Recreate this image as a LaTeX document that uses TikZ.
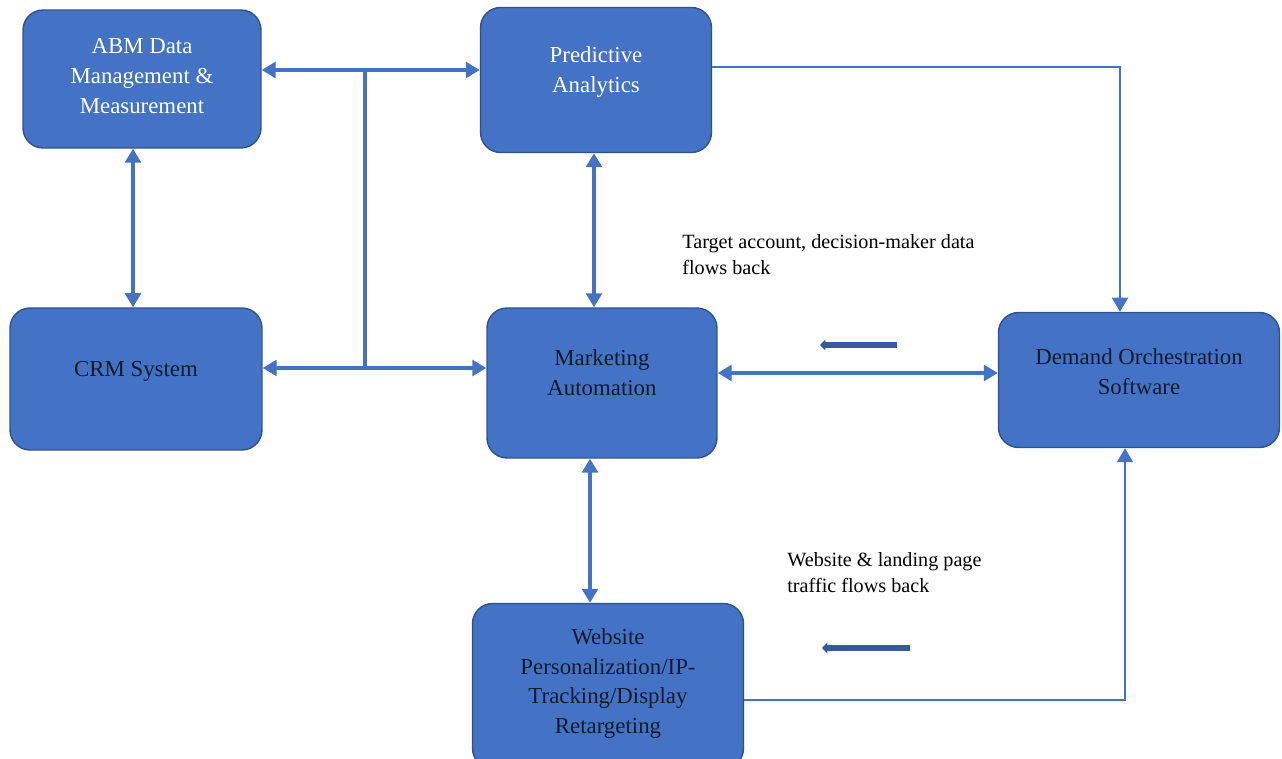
\documentclass[tikz,border=0pt]{standalone}
\usepackage{fontspec}
\setmainfont{Liberation Serif}
\usetikzlibrary{positioning,arrows.meta,calc}
\definecolor{boxblue}{HTML}{4472C4}
\definecolor{boxedge}{HTML}{2F528F}
\definecolor{darktext}{HTML}{141B2D}
\tikzset{
  block/.style={draw=boxedge, line width=0.8pt, fill=boxblue, rounded corners=0.4cm, inner sep=0pt},
  boxtext/.style={align=center, yshift=0.16cm, font=\fontsize{13}{17}\selectfont, text=darktext},
  link/.style={draw=boxblue, line width=2.2pt, {Triangle[length=8pt,width=9pt]}-{Triangle[length=8pt,width=9pt]}},
  feed/.style={draw=boxblue, line width=1.4pt, -{Triangle[length=8pt,width=9pt]}},
  backarrow/.style={draw=boxblue!80!black, line width=3pt, -{Triangle[length=3pt,width=6pt]}},
  note/.style={align=left, anchor=north west, inner sep=0pt, font=\fontsize{11.5}{15}\selectfont}
}
\begin{document}
\begin{tikzpicture}[x=0.02cm, y=-0.02cm]
  \useasboundingbox (0,0) rectangle (1282,759);
  % the six blocks (positions in pixels)
  \node[block, minimum width=4.76cm, minimum height=2.76cm,
    label={[boxtext, text=white, yshift=-0.1cm]center:ABM Data\\Management \&\\Measurement}] (abm) at (142,79) {};
  \node[block, minimum width=4.62cm, minimum height=2.9cm,
    label={[boxtext, text=white]center:Predictive\\Analytics}] (pred) at (596,80) {};
  \node[block, minimum width=5.04cm, minimum height=2.84cm,
    label={[boxtext]center:CRM System}] (crm) at (136,379) {};
  \node[block, minimum width=4.6cm, minimum height=3cm,
    label={[boxtext, yshift=0.04cm]center:Marketing\\Automation}] (ma) at (602,383) {};
  \node[block, minimum width=5.62cm, minimum height=2.7cm,
    label={[boxtext]center:Demand Orchestration\\Software}] (dos) at (1139,380) {};
  \node[block, minimum width=5.42cm, minimum height=3.3cm,
    label={[boxtext, yshift=-0.11cm]center:Website\\Personalization/IP-\\Tracking/Display\\Retargeting}] (web) at (608,686) {};
  % shared bus on the left
  \coordinate (bustop) at (365,70);
  \coordinate (busbot) at (365,368);
  \draw[link] (abm.east |- bustop) -- (pred.west |- bustop);
  \draw[link] (crm.east |- busbot) -- (ma.west |- busbot);
  \draw[draw=boxblue, line width=2.2pt] (bustop) -- (busbot);
  % vertical links
  \draw[link] (133,0 |- abm.south) -- (133,0 |- crm.north);
  \draw[link] (594,0 |- pred.south) -- (594,0 |- ma.north);
  \draw[link] (590,0 |- ma.south) -- (590,0 |- web.north);
  \draw[link] (ma.east |- 0,373) -- (dos.west |- 0,373);
  % data flowing back into demand orchestration
  \coordinate (ctop) at (1120,67);
  \coordinate (cbot) at (1125,700);
  \draw[feed] (pred.east |- ctop) -- (ctop) -- (ctop |- dos.north);
  \draw[feed] (web.east |- cbot) -- (cbot) -- (cbot |- dos.south);
  % small return arrows
  \foreach \xa/\xb/\ya in {897/820/345, 910/822/648} {
    \draw[backarrow] (\xa,\ya) -- (\xb,\ya);
  }
  \node[note] (n1) at (682,234) {Target account, decision-maker data\\flows back};
  \node[note] (n2) at (787,552) {Website \& landing page\\traffic flows back};
\end{tikzpicture}
\end{document}
